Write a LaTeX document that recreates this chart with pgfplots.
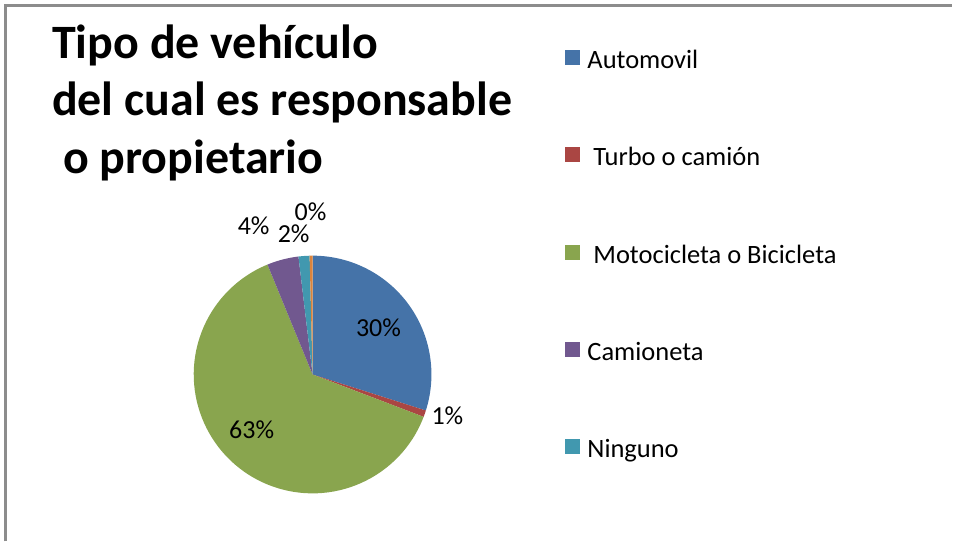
\documentclass[border=0pt]{standalone}
\usepackage{fontspec}
\setmainfont{Carlito}
\usepackage{pgfplots}
\pgfplotsset{compat=1.18}
\usepgfplotslibrary{polar}
\definecolor{cA}{HTML}{4573A8}
\definecolor{cB}{HTML}{AA4643}
\definecolor{cC}{HTML}{89A54E}
\definecolor{cD}{HTML}{71588F}
\definecolor{cE}{HTML}{4198AF}
\definecolor{cF}{HTML}{DB843D}
\definecolor{frame}{HTML}{8C8C8C}
% shares in percent
\newcommand\pA{29.9}% Automovil
\newcommand\pB{0.9}%  Turbo o camion
\newcommand\pC{63.0}% Motocicleta o Bicicleta
\newcommand\pD{4.3}%  Camioneta
\newcommand\pE{1.5}%  Ninguno
\newcommand\pF{0.4}%  (sin nombre)
\pgfmathsetmacro\tA{90}
\pgfmathsetmacro\tB{\tA-3.6*\pA}
\pgfmathsetmacro\tC{\tB-3.6*\pB}
\pgfmathsetmacro\tD{\tC-3.6*\pC}
\pgfmathsetmacro\tE{\tD-3.6*\pD}
\pgfmathsetmacro\tF{\tE-3.6*\pE}
\pgfmathsetmacro\tG{\tF-3.6*\pF}
\begin{document}
\begin{tikzpicture}[x=1pt,y=1pt]
\path (0,0) rectangle (953,542);
\draw[frame, line width=2.5pt] (5.5,0) -- (5.5,536.5) -- (953,536.5);
\begin{polaraxis}[
  at={(313pt,167pt)}, anchor=center,
  scale only axis, width=238pt, height=238pt,
  xmin=0, xmax=360, ymin=0, ymax=1,
  hide axis, clip=false,
  legend style={at={(axis description cs:1.5504,1.8823)}, anchor=north west,
    draw=none, fill=none, font=\fontsize{26.5}{31}\selectfont,
    row sep=73.6pt, column sep=0pt,
    /tikz/every odd column/.append style={column sep=5pt}},
  legend cell align=left,
  legend image code/.code={\path[#1,draw=none] (0pt,-5pt) rectangle (15pt,10pt);},
]
\addplot[fill=cA, draw=none] coordinates {(0,0) (\tA,1)} arc[start angle=\tA, end angle=\tB, radius=119pt] -- cycle;
\addlegendentry{Automovil}
\addplot[fill=cB, draw=none] coordinates {(0,0) (\tB,1)} arc[start angle=\tB, end angle=\tC, radius=119pt] -- cycle;
\addlegendentry{\hspace*{6pt}Turbo o camión}
\addplot[fill=cC, draw=none] coordinates {(0,0) (\tC,1)} arc[start angle=\tC, end angle=\tD, radius=119pt] -- cycle;
\addlegendentry{\hspace*{6pt}Motocicleta o Bicicleta}
\addplot[fill=cD, draw=none] coordinates {(0,0) (\tD,1)} arc[start angle=\tD, end angle=\tE, radius=119pt] -- cycle;
\addlegendentry{Camioneta}
\addplot[fill=cE, draw=none] coordinates {(0,0) (\tE,1)} arc[start angle=\tE, end angle=\tF, radius=119pt] -- cycle;
\addlegendentry{Ninguno}
\addplot[fill=cF, draw=none, forget plot] coordinates {(0,0) (\tF,1)} arc[start angle=\tF, end angle=\tG, radius=119pt] -- cycle;
\end{polaraxis}
\begin{scope}[every node/.style={font=\fontsize{26}{30}\selectfont, inner sep=0pt, anchor=base}]
\node at (379,205) {30\%};
\node at (448,117) {1\%};
\node at (252,103) {63\%};
\node at (254,307) {4\%};
\node at (294,299) {2\%};
\node at (311,321) {0\%};
\end{scope}
\begin{scope}[every node/.style={font=\fontsize{48}{56}\selectfont\bfseries, inner sep=0pt, anchor=base west}]
\node at (52,483) {Tipo de vehículo};
\node at (52,426) {del cual es responsable};
\node at (63,368) {o propietario};
\end{scope}
\end{tikzpicture}
\end{document}
